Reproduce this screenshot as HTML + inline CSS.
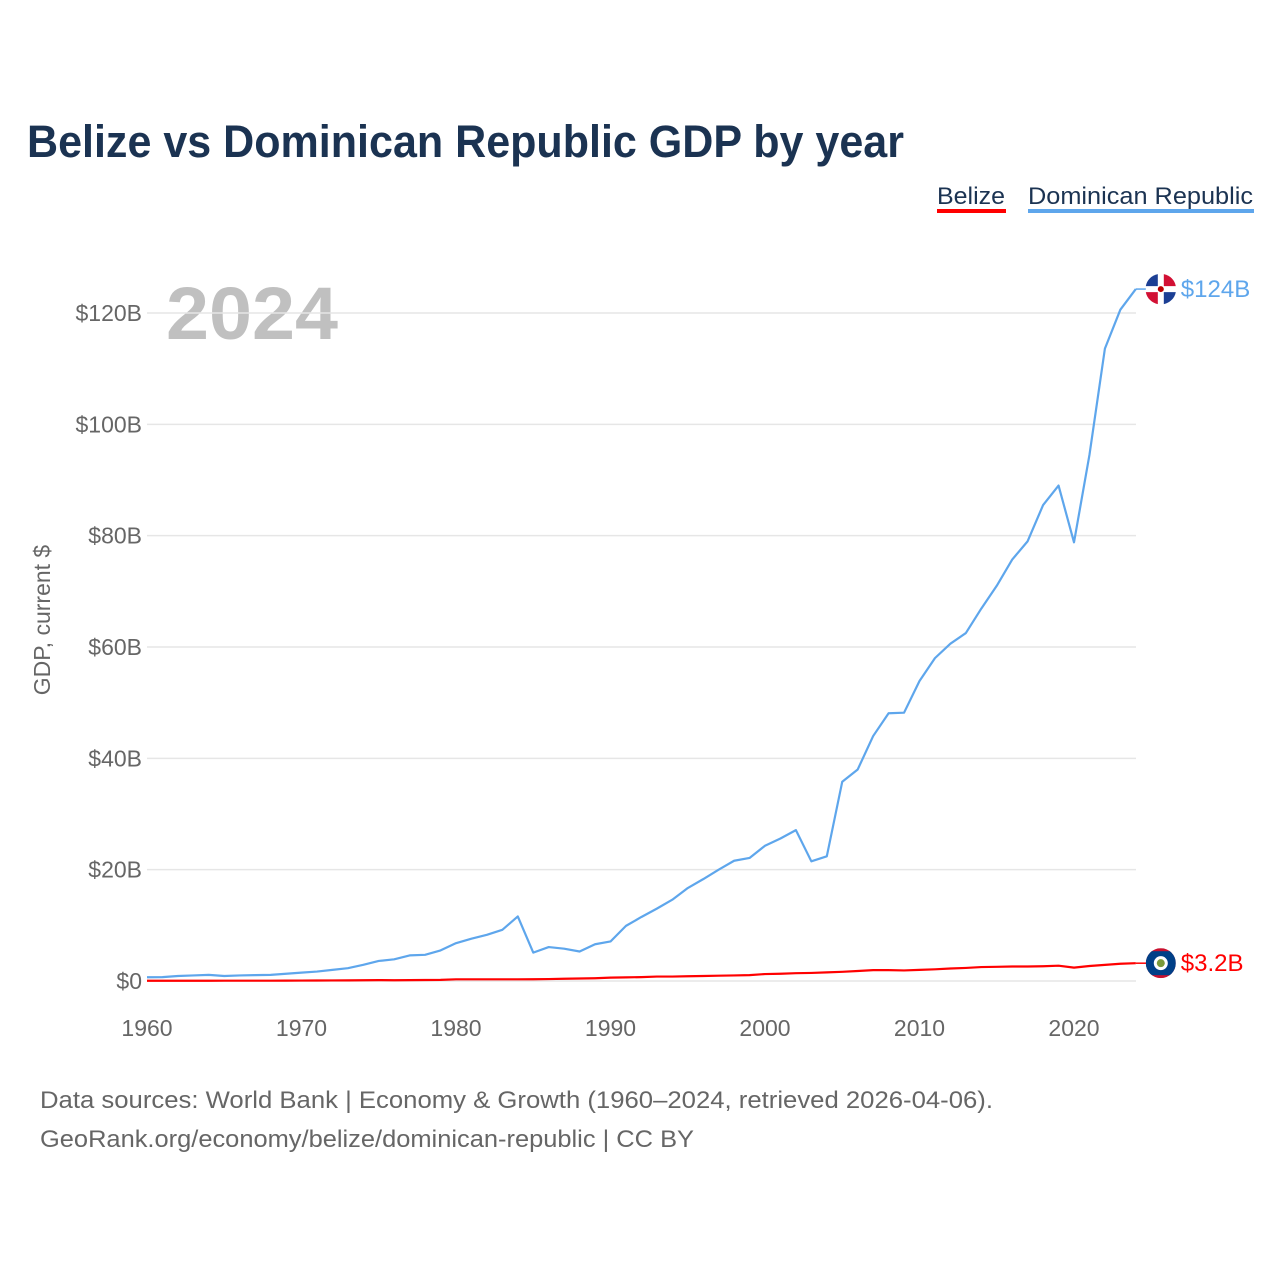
<!DOCTYPE html>
<html><head><meta charset="utf-8"><style>
body{margin:0;background:#fff;font-family:"Liberation Sans",sans-serif}
#wrap{position:relative;width:1280px;height:1280px;overflow:hidden}
</style></head><body>
<div id="wrap">
<svg id="chart" width="1280" height="1280">
<defs><clipPath id="bzclip"><circle cx="1161" cy="963" r="15"/></clipPath></defs>
<text x="27" y="157" font-size="45" font-weight="bold" fill="#1b3352" textLength="877" lengthAdjust="spacingAndGlyphs">Belize vs Dominican Republic GDP by year</text>
<g><text x="937" y="204" font-size="24" fill="#1b3352" textLength="68" lengthAdjust="spacingAndGlyphs">Belize</text><rect x="937" y="209" width="69" height="4" fill="#ff0000"/></g>
<g><text x="1028" y="204" font-size="24" fill="#1b3352" textLength="225" lengthAdjust="spacingAndGlyphs">Dominican Republic</text><rect x="1028" y="209" width="226" height="4" fill="#5ea6ec"/></g>
<text x="166" y="339" font-size="74" font-weight="bold" fill="#c0c0c0" textLength="172" lengthAdjust="spacingAndGlyphs">2024</text>
<text transform="translate(50,620) rotate(-90)" text-anchor="middle" font-size="23" fill="#666">GDP, current $</text>
<g id="grid"></g><g id="series"></g>
<text x="40" y="1108" font-size="24" fill="#666" textLength="953" lengthAdjust="spacingAndGlyphs">Data sources: World Bank | Economy &amp; Growth (1960–2024, retrieved 2026-04-06).</text>
<text x="40" y="1147" font-size="24" fill="#666" textLength="654" lengthAdjust="spacingAndGlyphs">GeoRank.org/economy/belize/dominican-republic | CC BY</text>
</svg></div>
<script>
const years=[];for(let y=1960;y<=2024;y++)years.push(y);
const drGdp=[0.67,0.7,0.9,1.0,1.1,0.9,1.0,1.05,1.1,1.3,1.5,1.7,2.0,2.3,2.9,3.6,3.9,4.6,4.7,5.5,6.8,7.6,8.3,9.2,11.6,5.1,6.1,5.8,5.3,6.6,7.1,9.9,11.5,13.0,14.6,16.7,18.3,20.0,21.6,22.1,24.3,25.6,27.1,21.5,22.4,35.8,38.0,44.0,48.1,48.2,53.9,58.0,60.6,62.5,66.9,71.0,75.7,79.0,85.5,89.0,78.8,94.5,113.6,120.6,124.3];
const bzGdp=[0.05,0.05,0.05,0.05,0.05,0.06,0.06,0.06,0.06,0.07,0.08,0.09,0.1,0.11,0.14,0.16,0.13,0.16,0.18,0.2,0.3,0.3,0.3,0.3,0.3,0.32,0.35,0.4,0.45,0.5,0.6,0.65,0.7,0.8,0.8,0.85,0.9,0.95,1.0,1.05,1.25,1.3,1.4,1.45,1.55,1.65,1.8,1.95,1.95,1.9,2.0,2.1,2.25,2.35,2.5,2.55,2.6,2.6,2.65,2.75,2.4,2.7,2.9,3.1,3.2];
const yTicks=[0,20,40,60,80,100,120];
const xTicks=[1960,1970,1980,1990,2000,2010,2020];
const NS='http://www.w3.org/2000/svg';
const xs=y=>147+(y-1960)*(1074-147)/60;
const ys=v=>981-v*(981-313)/120;
function mk(t,a,p){const e=document.createElementNS(NS,t);for(const k in a)e.setAttribute(k,a[k]);p.appendChild(e);return e;}
const grid=document.getElementById('grid'),ser=document.getElementById('series');
yTicks.forEach(v=>{
 const l=mk('line',{x1:147,x2:1136,y1:ys(v),y2:ys(v),stroke:'#e6e6e6','stroke-width':1.5},grid);
 
 
 const t=mk('text',{x:142,y:ys(v)+8,'text-anchor':'end','font-size':23,fill:'#666'},grid);
 t.textContent='$'+v+(v?'B':'');
 
 
});
xTicks.forEach(v=>{
 const t=mk('text',{x:xs(v),y:1036,'text-anchor':'middle','font-size':23,fill:'#666'},grid);
 t.textContent=v;
 
 
});
function line(d,c,name){
 const p=mk('polyline',{points:d.map((v,i)=>xs(years[i])+','+ys(v)).join(' '),fill:'none',stroke:c,'stroke-width':2.2,'stroke-linejoin':'round'},ser);
 
 
}
line(drGdp,'#5ea6ec','dominican-republic-line');
line(bzGdp,'#ff0000','belize-line');
function endLabel(d,c,txt,name,flag){
 const v=d[d.length-1],y=ys(v),x=xs(2024);
 mk('line',{x1:x,x2:x+12,y1:y,y2:y,stroke:c,'stroke-width':1.5},ser);
 const g=mk('g',{},ser);
 
 
 flag(g,x+25,y);
 const t=mk('text',{x:x+45,y:y+8,'font-size':24,fill:c},ser);
 t.textContent=txt;
 
 
}
endLabel(drGdp,'#5ea6ec','$124B','dominican-republic',(g,cx,cy)=>{
 mk('circle',{cx,cy,r:15,fill:'#fff'},g);
 mk('path',{d:`M${cx-15},${cy-3}A15,15 0 0 1 ${cx-3},${cy-15}V${cy-3}Z`,fill:'#1c3f94'},g);
 mk('path',{d:`M${cx+3},${cy-15}A15,15 0 0 1 ${cx+15},${cy-3}H${cx+3}Z`,fill:'#d21034'},g);
 mk('path',{d:`M${cx-15},${cy+3}A15,15 0 0 0 ${cx-3},${cy+15}V${cy+3}Z`,fill:'#d21034'},g);
 mk('path',{d:`M${cx+3},${cy+15}A15,15 0 0 0 ${cx+15},${cy+3}H${cx+3}Z`,fill:'#1c3f94'},g);
 mk('circle',{cx,cy,r:3,fill:'#b00'},g);
});
endLabel(bzGdp,'#ff0000','$3.2B','belize',(g,cx,cy)=>{
 const cp=document.querySelector('#bzclip circle');cp.setAttribute('cx',cx);cp.setAttribute('cy',cy);
 const f=mk('g',{'clip-path':'url(#bzclip)'},g);
 mk('rect',{x:cx-15,y:cy-15,width:30,height:30,fill:'#c8102e'},f);
 mk('rect',{x:cx-15,y:cy-12,width:30,height:24,fill:'#003f87'},f);
 mk('circle',{cx,cy,r:7,fill:'#fff'},g);
 mk('circle',{cx,cy,r:4,fill:'#7a9a3a'},g);
});
</script>
</body></html>
